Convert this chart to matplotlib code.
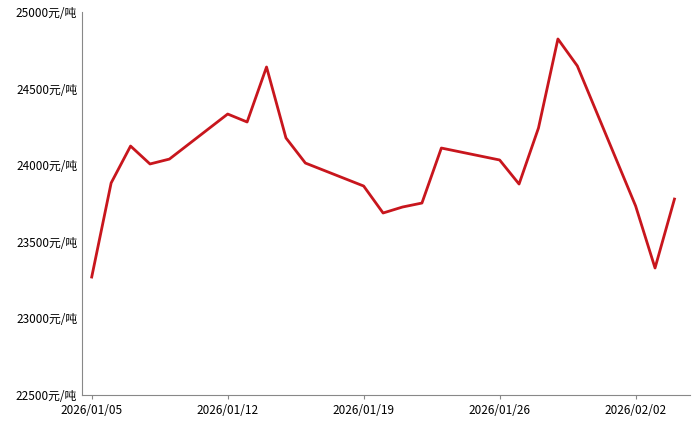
import matplotlib
matplotlib.use("Agg")
import matplotlib.pyplot as plt
import matplotlib.dates as mdates
import pandas as pd

plt.rcParams['font.family'] = ['Noto Sans CJK SC', 'DejaVu Sans']

dates = ["2026-01-05","2026-01-06","2026-01-07","2026-01-08","2026-01-09",
         "2026-01-12","2026-01-13","2026-01-14","2026-01-15","2026-01-16",
         "2026-01-19","2026-01-20","2026-01-21","2026-01-22","2026-01-23",
         "2026-01-26","2026-01-27","2026-01-28","2026-01-29","2026-01-30",
         "2026-02-02","2026-02-03","2026-02-04"]
prices = [23270,23884,24125,24008,24040,
          24334,24282,24641,24178,24014,
          23864,23688,23727,23753,24112,
          24034,23877,24243,24824,24648,
          23734,23329,23779]
yticks = [22500,23000,23500,24000,24500,25000]

x = pd.to_datetime(dates)
fig = plt.figure(figsize=(7.0,4.24), dpi=100)
ax = fig.add_axes([82/700, 1-395/424, (690-82)/700, (395-12)/424])
ax.plot(x, prices, color='#c8161d', lw=2)
ax.set_ylim(22500,25000)
ax.set_yticks(yticks)
ax.set_yticklabels([f"{v}元/吨" for v in yticks], fontsize=8.5)
ax.set_xlim(pd.Timestamp("2026-01-05")-pd.Timedelta(hours=12), pd.Timestamp("2026-01-05")+pd.Timedelta(days=30.8))
ax.xaxis.set_major_locator(mdates.DayLocator(bymonthday=[5,12,19,26,2]))
ax.set_xticks(pd.to_datetime(["2026-01-05","2026-01-12","2026-01-19","2026-01-26","2026-02-02"]))
ax.xaxis.set_major_formatter(mdates.DateFormatter("%Y/%m/%d"))
ax.tick_params(axis='x', labelsize=8.5, length=3, color='#888888')
ax.tick_params(axis='y', length=0)
for s in ['top','right']:
    ax.spines[s].set_visible(False)
for s in ['left','bottom']:
    ax.spines[s].set_color('#888888')
fig.savefig("out.png", dpi=100)
